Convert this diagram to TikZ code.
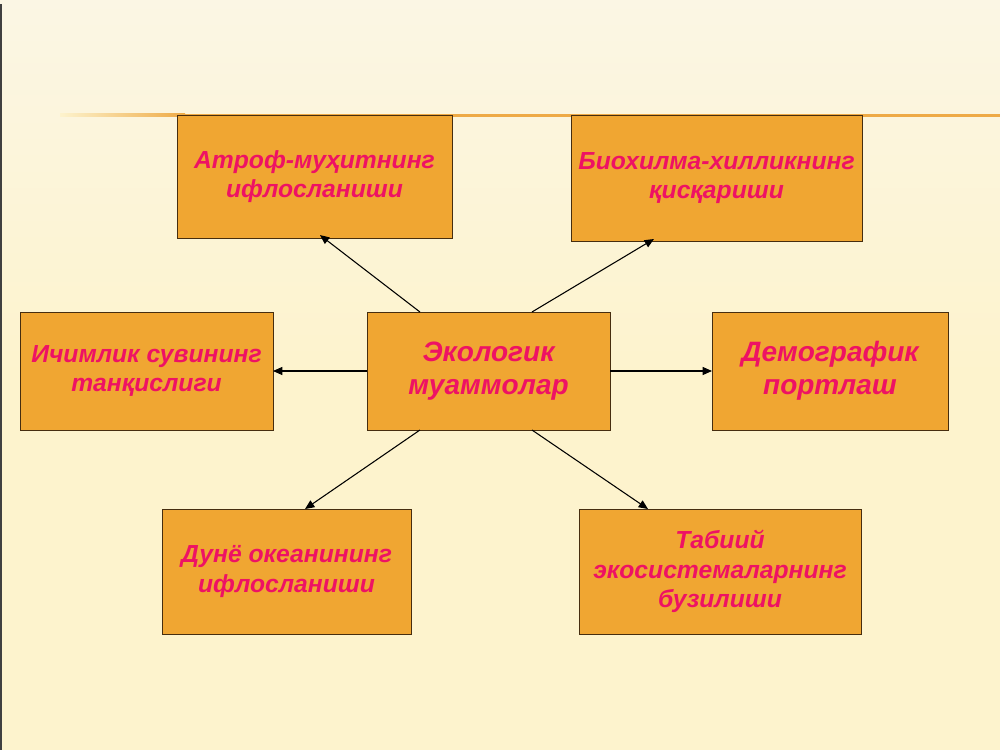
\documentclass[tikz,border=0pt]{standalone}
\usepackage{fontspec}
\setmainfont{Liberation Sans}
\usetikzlibrary{arrows.meta}
\definecolor{slidebg}{RGB}{253,243,205}
\definecolor{slidetop}{RGB}{251,246,228}
\definecolor{boxfill}{RGB}{240,166,50}
\definecolor{boxline}{RGB}{70,45,15}
\definecolor{txtpink}{RGB}{238,18,100}
\definecolor{barorange}{RGB}{238,170,70}

\begin{document}
\begin{tikzpicture}[x=0.75pt,y=0.75pt,yscale=-1,xscale=1,
  problem/.style={draw=boxline, line width=0.75pt, fill=boxfill, inner sep=0pt, outer sep=0pt,
    align=center, text=txtpink, font=\fontsize{18.5}{22.2}\selectfont\bfseries\itshape},
  mainproblem/.style={problem, font=\fontsize{21}{24.5}\selectfont\bfseries\itshape},
  link/.style={draw=black, line width=0.8pt, -{Triangle[length=7pt,width=6pt]}}]
\useasboundingbox (0,0) rectangle (1000,750);

%Shape: Background
\shade [top color=slidetop, bottom color=slidebg, middle color=slidebg] (0,0) rectangle (1000,750);
%Straight Lines: left edge
\draw [color=black!75, line width=1.2pt] (0.8,4) -- (0.8,750);
%Shape: orange bar behind the top row
\shade [left color=slidebg, right color=barorange] (60,113.5) rectangle (185,116.5);
\draw [color=barorange, line width=2.25pt] (185,115) -- (1000,115);

% Text Node
\node [mainproblem, minimum width=182.25pt, minimum height=88.5pt] (eco) at (488.5,371) {Экологик\\муаммолар};
% Text Node
\node [problem, minimum width=206.25pt, minimum height=92.25pt] (atrof) at (314.5,176.5) {Атроф-муҳитнинг\\ифлосланиши};
% Text Node
\node [problem, minimum width=218.25pt, minimum height=94.5pt] (bio) at (716.5,178) {Биохилма-хилликнинг\\қисқариши};
% Text Node
\node [problem, minimum width=189.75pt, minimum height=88.5pt] (suv) at (146.5,371) {Ичимлик сувининг\\танқислиги};
% Text Node
\node [mainproblem, minimum width=177pt, minimum height=88.5pt] (demo) at (830,371) {Демографик\\портлаш};
% Text Node
\node [problem, minimum width=186.75pt, minimum height=93.75pt] (okean) at (286.5,571.5) {Дунё океанининг\\ифлосланиши};
% Text Node
\node [problem, minimum width=211.5pt, minimum height=93.75pt] (tabiiy) at (720,571.5) {Табиий\\экосистемаларнинг\\бузилиши};

%Straight Lines
\draw [link] ([xshift=-51.4pt]eco.north) -- ([xshift=4.1pt,yshift=-2.2pt]atrof.south);
\draw [link] ([xshift=32.6pt]eco.north) -- ([xshift=-46.9pt,yshift=-1.5pt]bio.south);
\draw [link] (eco.west) -- (suv.east);
\draw [link] (eco.east) -- (demo.west);
\draw [link] ([xshift=-51.4pt]eco.south) -- ([xshift=13.9pt]okean.north);
\draw [link] ([xshift=32.6pt]eco.south) -- ([xshift=-54pt]tabiiy.north);

\end{tikzpicture}
\end{document}
